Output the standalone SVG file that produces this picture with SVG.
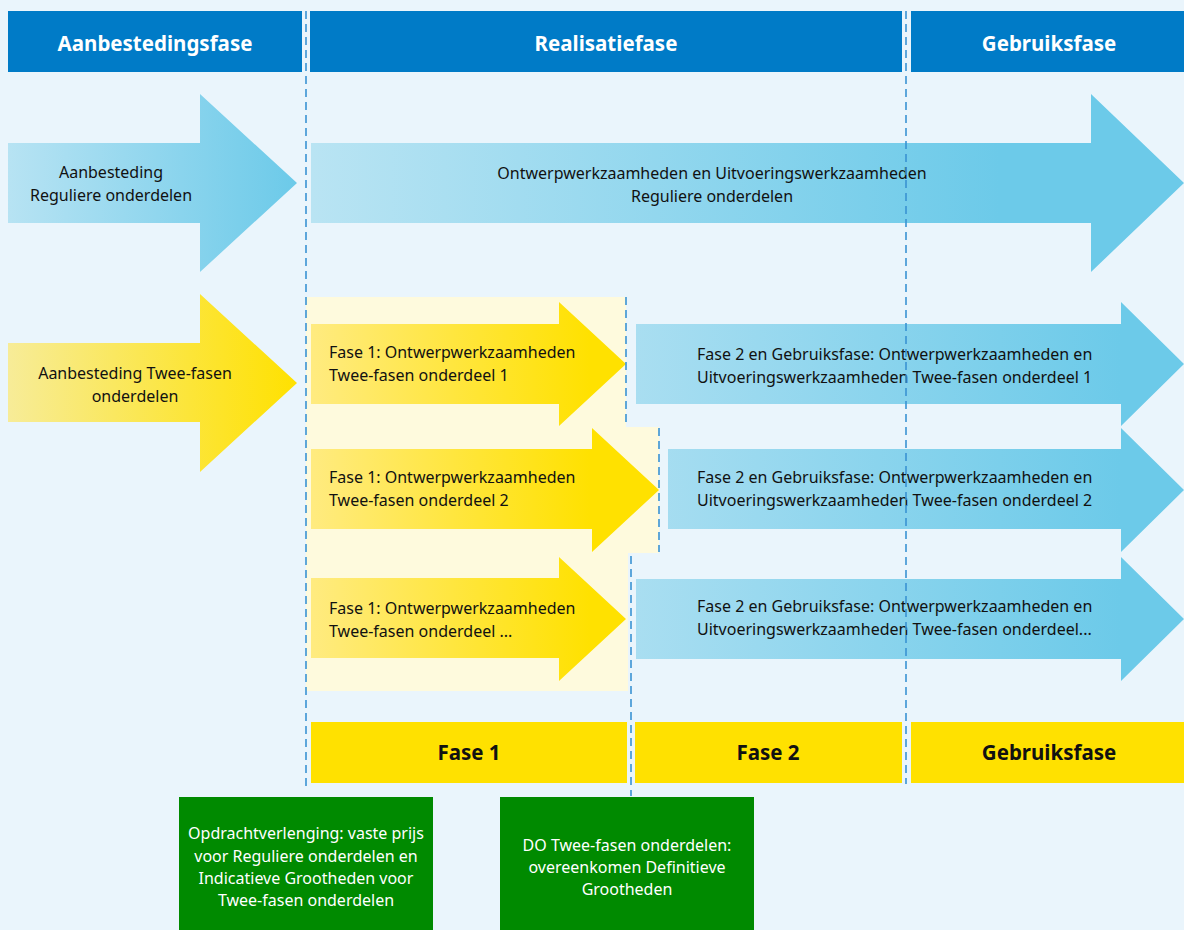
<svg xmlns="http://www.w3.org/2000/svg" width="1184" height="930" viewBox="0 0 1184 930">
<defs>
<linearGradient id="gBlue" x1="0" y1="0" x2="1" y2="0">
<stop offset="0" stop-color="#B7E3F3"/><stop offset="1" stop-color="#6CCAE9"/>
</linearGradient>
<linearGradient id="gBlueBig" gradientUnits="userSpaceOnUse" x1="311" y1="0" x2="1000" y2="0">
<stop offset="0" stop-color="#B9E4F3"/><stop offset="1" stop-color="#6CCAE9"/>
</linearGradient>
<linearGradient id="gBlueMid" gradientUnits="userSpaceOnUse" x1="636" y1="0" x2="1120" y2="0">
<stop offset="0" stop-color="#A9DEF1"/><stop offset="1" stop-color="#6CCAE9"/>
</linearGradient>
<linearGradient id="gYel" x1="0" y1="0" x2="1" y2="0">
<stop offset="0" stop-color="#F7EC98"/><stop offset="1" stop-color="#FFE100"/>
</linearGradient>
<linearGradient id="gYel2" gradientUnits="userSpaceOnUse" x1="311" y1="0" x2="590" y2="0">
<stop offset="0" stop-color="#FFEB80"/><stop offset="1" stop-color="#FFE100"/>
</linearGradient>
<style>
.hdr{fill:#007BC7}
.hdrt{font-family:"Noto Sans","Liberation Sans",sans-serif;font-weight:bold;font-size:20.5px;fill:#fff;text-anchor:middle}
.t{font-family:"Noto Sans","Liberation Sans",sans-serif;font-size:16px;fill:#111}
.tc{text-anchor:middle}
.ybar{fill:#FFE100}
.ybt{font-family:"Noto Sans","Liberation Sans",sans-serif;font-weight:bold;font-size:20.5px;fill:#111;text-anchor:middle}
.green{fill:#008A00}
.gt{font-family:"Noto Sans","Liberation Sans",sans-serif;font-size:16px;fill:#fff;text-anchor:middle}
.dash{stroke:#3A93D3;stroke-width:1.6;stroke-dasharray:8 5;fill:none}
</style>
</defs>
<rect width="1184" height="930" fill="#EAF5FC"/>

<!-- light yellow fase 1 region -->
<polygon points="306,297 626,297 626,427 659,427 659,553 628,553 628,691 306,691" fill="#FEFADD"/>

<g id="hdr-aanbesteding"><rect class="hdr" x="8" y="11" width="294" height="61"/><text class="hdrt" x="155" y="51">Aanbestedingsfase</text></g>
<g id="hdr-realisatie"><rect class="hdr" x="310" y="11" width="592" height="61"/><text class="hdrt" x="606" y="51">Realisatiefase</text></g>
<g id="hdr-gebruik"><rect class="hdr" x="911" y="11" width="273" height="61"/><text class="hdrt" x="1049" y="51">Gebruiksfase</text></g>

<g id="arrow-aanb-regulier">
<polygon points="8,143 200,143 200,94 297,183 200,272 200,223 8,223" fill="url(#gBlue)"/>
<text class="t tc" x="111" y="178">Aanbesteding</text>
<text class="t tc" x="111" y="201">Reguliere onderdelen</text>
</g>
<g id="arrow-regulier">
<polygon points="311,143 1091,143 1091,94 1184,183 1091,272 1091,223 311,223" fill="url(#gBlueBig)"/>
<text class="t tc" x="712" y="179">Ontwerpwerkzaamheden en Uitvoeringswerkzaamheden</text>
<text class="t tc" x="712" y="202">Reguliere onderdelen</text>
</g>

<g id="arrow-aanb-tweefasen">
<polygon points="8,343 200,343 200,294 297,383 200,472 200,422 8,422" fill="url(#gYel)"/>
<text class="t tc" x="135" y="379">Aanbesteding Twee-fasen</text>
<text class="t tc" x="135" y="402">onderdelen</text>
</g>

<g id="fase1-1">
<polygon points="311,324 559,324 559,302 626,364 559,426 559,404 311,404" fill="url(#gYel2)"/>
<text class="t" x="329" y="358">Fase 1: Ontwerpwerkzaamheden</text>
<text class="t" x="329" y="381">Twee-fasen onderdeel 1</text>
</g>
<g id="fase1-2">
<polygon points="311,449 592,449 592,428 659,490 592,552 592,529 311,529" fill="url(#gYel2)"/>
<text class="t" x="329" y="483">Fase 1: Ontwerpwerkzaamheden</text>
<text class="t" x="329" y="506">Twee-fasen onderdeel 2</text>
</g>
<g id="fase1-3">
<polygon points="311,578 559,578 559,557 626,619 559,681 559,658 311,658" fill="url(#gYel2)"/>
<text class="t" x="329" y="614">Fase 1: Ontwerpwerkzaamheden</text>
<text class="t" x="329" y="637">Twee-fasen onderdeel ...</text>
</g>

<g id="fase2-1">
<polygon points="636,324 1121,324 1121,302 1184,364 1121,426 1121,404 636,404" fill="url(#gBlueMid)"/>
<text class="t" x="697" y="360">Fase 2 en Gebruiksfase: Ontwerpwerkzaamheden en</text>
<text class="t" x="697" y="383">Uitvoeringswerkzaamheden Twee-fasen onderdeel 1</text>
</g>
<g id="fase2-2">
<polygon points="668,449 1121,449 1121,428 1184,490 1121,552 1121,529 668,529" fill="url(#gBlueMid)"/>
<text class="t" x="697" y="483">Fase 2 en Gebruiksfase: Ontwerpwerkzaamheden en</text>
<text class="t" x="697" y="506">Uitvoeringswerkzaamheden Twee-fasen onderdeel 2</text>
</g>
<g id="fase2-3">
<polygon points="636,579 1121,579 1121,557 1184,619 1121,681 1121,659 636,659" fill="url(#gBlueMid)"/>
<text class="t" x="697" y="612">Fase 2 en Gebruiksfase: Ontwerpwerkzaamheden en</text>
<text class="t" x="697" y="635">Uitvoeringswerkzaamheden Twee-fasen onderdeel...</text>
</g>

<g id="bar-fase1"><rect class="ybar" x="311" y="722" width="316" height="61"/><text class="ybt" x="469" y="760">Fase 1</text></g>
<g id="bar-fase2"><rect class="ybar" x="635" y="722" width="267" height="61"/><text class="ybt" x="768" y="760">Fase 2</text></g>
<g id="bar-gebruik"><rect class="ybar" x="911" y="722" width="273" height="61"/><text class="ybt" x="1049" y="760">Gebruiksfase</text></g>

<g id="green-opdracht">
<rect class="green" x="179" y="797" width="254" height="133"/>
<text class="gt" x="306" y="839">Opdrachtverlenging: vaste prijs</text>
<text class="gt" x="306" y="862">voor Reguliere onderdelen en</text>
<text class="gt" x="306" y="884">Indicatieve Grootheden voor</text>
<text class="gt" x="306" y="906">Twee-fasen onderdelen</text>
</g>
<g id="green-do">
<rect class="green" x="500" y="797" width="254" height="133"/>
<text class="gt" x="627" y="851">DO Twee-fasen onderdelen:</text>
<text class="gt" x="627" y="873">overeenkomen Definitieve</text>
<text class="gt" x="627" y="895">Grootheden</text>
</g>

<g id="connectors">
<line class="dash" x1="306" y1="11" x2="306" y2="786"/>
<line class="dash" x1="906" y1="11" x2="906" y2="784"/>
<line class="dash" x1="626" y1="297" x2="626" y2="425"/>
<line class="dash" x1="659" y1="428" x2="659" y2="552"/>
<line class="dash" x1="631" y1="556" x2="631" y2="796"/>
</g>
</svg>
